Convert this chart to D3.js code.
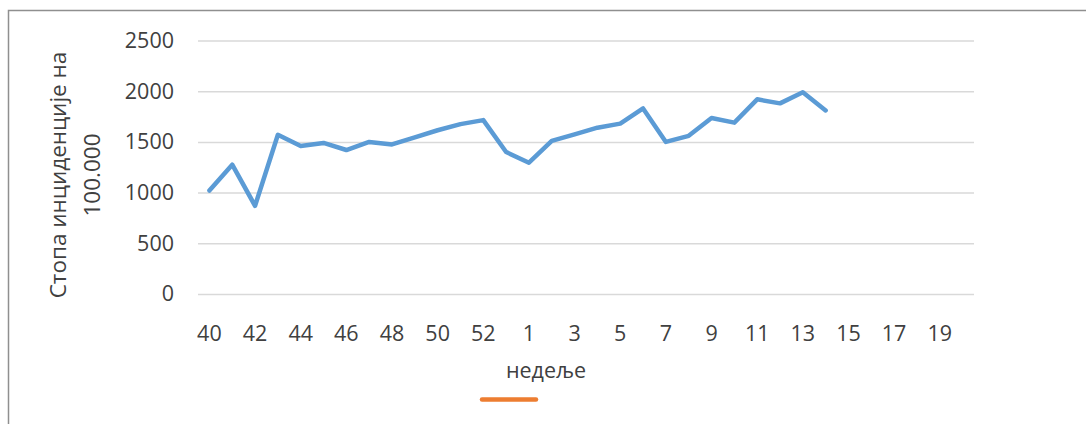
<!DOCTYPE html>
<html>
<head>
<meta charset="utf-8">
<script src="https://cdn.jsdelivr.net/npm/d3@7"></script>
<style>
  body { margin: 0; background: #fff; }
  text { font-family: "Open Sans", sans-serif; fill: #404040; }
</style>
</head>
<body>
<div id="canvas"></div>
<script>
// weeks: 40..53 of 2020, then 1..20 of 2021
const weeks = ["40", "41", "42", "43", "44", "45", "46", "47", "48", "49", "50", "51", "52", "53",
    "1", "2", "3", "4", "5", "6", "7", "8", "9", "10", "11", "12", "13", "14", "15", "16", "17", "18", "19", "20"];
const rates = [1020, 1275, 870, 1570, 1460, 1490, 1420, 1500, 1475, 1545, 1615, 1675, 1715, 1400,
    1295, 1510, 1575, 1640, 1680, 1830, 1500, 1560, 1735, 1690, 1920, 1880, 1990, 1810];
const yTicks = [0, 500, 1000, 1500, 2000, 2500];
const xTickLabels = weeks.filter((d, i) => i % 2 === 0);
const yTitle = ["Стопа инциденције на", "100.000"];
const xTitle = "недеље";
const legendItems = [{ name: "", color: "#ed7d31" }];

const width = 1086, height = 424;
const margin = {top: 40.5, right: 112, bottom: 130, left: 198};
const fontSize = "21.5px";

const svg = d3.select("#canvas")
    .append("svg")
    .attr("width", width)
    .attr("height", height);

// chart frame
svg.append("rect")
    .attr("x", 8.5)
    .attr("y", 10.5)
    .attr("width", width + 20)
    .attr("height", height + 20)
    .attr("fill", "none")
    .attr("stroke", "#8f8f8f")
    .attr("stroke-width", 1.5);

const x = d3.scaleBand()
    .domain(weeks)
    .range([margin.left, width - margin.right])
    .padding(0);

const y = d3.scaleLinear()
    .domain([0, 2500])
    .range([height - margin.bottom, margin.top]);

// gridlines + y labels
const yAxis = svg.append("g")
    .attr("transform", "translate(" + margin.left + ",0)")
    .call(d3.axisLeft(y)
        .tickValues(yTicks)
        .tickSize(-(width - margin.right - margin.left))
        .tickPadding(24)
        .tickFormat(d3.format("d")));
yAxis.select(".domain").remove();
yAxis.selectAll(".tick line")
    .attr("stroke", "#d9d9d9")
    .attr("stroke-width", 1.5);
yAxis.selectAll(".tick text")
    .style("font-size", fontSize)
    .style("font-family", "'Open Sans', sans-serif")
    .attr("fill", "#404040");

// x labels
const xAxis = svg.append("g")
    .attr("transform", "translate(0," + y(0) + ")")
    .call(d3.axisBottom(x)
        .tickValues(xTickLabels)
        .tickSize(0)
        .tickPadding(31)
        .tickSizeOuter(0));
xAxis.select(".domain").remove();
xAxis.selectAll(".tick text")
    .attr("dy", "0")
    .style("font-size", fontSize)
    .style("font-family", "'Open Sans', sans-serif")
    .attr("fill", "#404040")
    .attr("y", 47);

// axis titles
const yt = svg.append("text")
    .attr("transform", "translate(58,175) rotate(-90)")
    .style("text-anchor", "middle")
    .style("font-size", "22.5px");
yt.selectAll("tspan")
    .data(yTitle)
    .enter()
    .append("tspan")
    .attr("x", 0)
    .attr("dy", (d, i) => i === 0 ? "0.35em" : "1.5em")
    .text(d => d);

svg.append("text")
    .attr("x", 546)
    .attr("y", 370)
    .attr("dy", "0.35em")
    .style("text-anchor", "middle")
    .style("font-size", fontSize)
    .text(xTitle);

// series line
svg.append("path")
    .datum(rates)
    .attr("fill", "none")
    .attr("stroke", "#5b9bd5")
    .attr("stroke-width", 4.5)
    .attr("stroke-linejoin", "round")
    .attr("stroke-linecap", "round")
    .attr("d", d3.line()
        .x((d, i) => x(weeks[i]) + x.bandwidth() / 2)
        .y(d => y(d)));

// legend
legendItems.forEach((item, i) => {
    svg.append("line")
        .attr("x1", 482 + i * 100)
        .attr("x2", 536 + i * 100)
        .attr("y1", 399.5)
        .attr("y2", 399.5)
        .attr("stroke", item.color)
        .attr("stroke-width", 4.5)
        .attr("stroke-linecap", "round");
    svg.append("text")
        .attr("x", 542 + i * 100)
        .attr("y", 399.5)
        .attr("dy", "0.35em")
        .style("font-size", fontSize)
        .text(item.name);
});
</script>
</body>
</html>
